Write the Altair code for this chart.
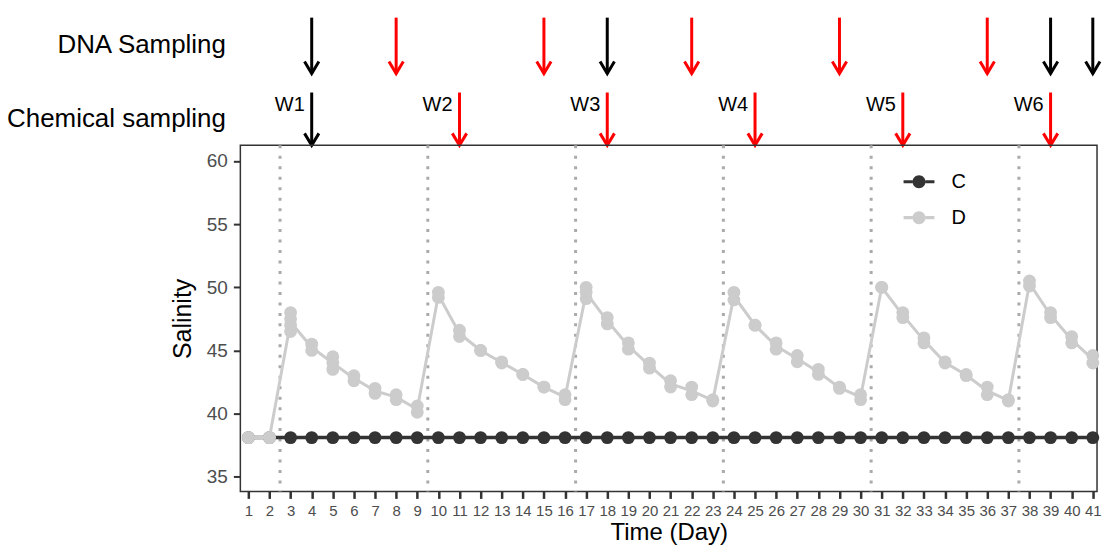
import altair as alt
import pandas as pd

# ---------------- data ----------------
days = list(range(1, 42))
C_salinity = [38.1, 38.1, 38.1, 38.1, 38.1, 38.1, 38.1, 38.1, 38.1, 38.1,
              38.1, 38.1, 38.1, 38.1, 38.1, 38.1, 38.1, 38.1, 38.1, 38.1,
              38.1, 38.1, 38.1, 38.1, 38.1, 38.1, 38.1, 38.1, 38.1, 38.1,
              38.1, 38.1, 38.1, 38.1, 38.1, 38.1, 38.1, 38.1, 38.1, 38.1, 38.1]
D_high = [38.1, 38.1, 48.0, 45.5, 44.5, 43.0, 42.0, 41.5, 40.6, 49.6,
          46.6, 45.0, 44.1, 43.1, 42.1, 41.5, 50.0, 47.6, 45.6, 44.0,
          42.6, 42.1, 41.1, 49.6, 47.0, 45.6, 44.6, 43.5, 42.1, 41.5,
          50.0, 48.0, 46.0, 44.1, 43.1, 42.1, 41.1, 50.5, 48.0, 46.1, 44.6]
D_low = [38.1, 38.1, 46.5, 45.0, 43.5, 42.6, 41.6, 41.1, 40.1, 49.2,
         46.1, 45.0, 44.0, 43.1, 42.1, 41.1, 49.1, 47.1, 45.1, 43.6,
         42.1, 41.5, 41.0, 49.0, 47.0, 45.1, 44.1, 43.1, 42.0, 41.1,
         50.0, 47.6, 45.6, 44.0, 43.0, 41.5, 41.0, 50.1, 47.6, 45.6, 44.0]
D_extra_day = [3, 3, 5, 17]
D_extra_val = [47.5, 47.0, 44.0, 49.6]

window_starts = [2.5, 9.5, 16.5, 23.5, 30.5, 37.5]

dna_days = [4, 8, 15, 18, 22, 29, 36, 39, 41]
dna_colors = ["black", "red", "red", "black", "red", "red", "red", "black", "black"]
chem_days = [4, 11, 18, 25, 32, 39]
chem_colors = ["black", "red", "red", "red", "red", "red"]
chem_labels = ["W1", "W2", "W3", "W4", "W5", "W6"]

groups = ["C", "D"]
group_colors = ["#333333", "#CCCCCC"]

# ---------------- tables ----------------
df_c = pd.DataFrame({"day": days, "value": C_salinity, "group": "C"})
df_d = pd.concat([
    pd.DataFrame({"day": days, "value": D_high}),
    pd.DataFrame({"day": days, "value": D_low}),
    pd.DataFrame({"day": D_extra_day, "value": D_extra_val}),
], ignore_index=True)
df_d["group"] = "D"
df_win = pd.DataFrame({"b": window_starts})
df_dna = pd.DataFrame({"day": dna_days, "col": dna_colors})
df_chem = pd.DataFrame({"day": chem_days, "col": chem_colors, "lab": chem_labels})

FONT = "Liberation Sans"
W = 859
H_MAIN = 347
H_TOP = 130

xscale = alt.Scale(domain=[0.62, 41.2], nice=False, zero=False)
yscale = alt.Scale(domain=[33.84, 61.24], nice=False, zero=False)
cscale = alt.Scale(domain=groups, range=group_colors)

x_axis = alt.Axis(values=days, title="Time (Day)", labelAngle=0, labelOverlap=False,
                  labelFlush=False, tickSize=7, tickWidth=2.5, tickColor="#333333",
                  labelFontSize=15, labelColor="#4D4D4D", labelPadding=5,
                  titleFontSize=24, titleFontWeight="normal", titleColor="black",
                  titlePadding=2, domain=False, grid=False)
y_axis = alt.Axis(values=[35, 40, 45, 50, 55, 60], title="Salinity", tickSize=7,
                  tickWidth=2, tickColor="#333333", labelFontSize=19,
                  labelColor="#4D4D4D", labelPadding=6, titleFontSize=25,
                  titleFontWeight="normal", titleColor="black", titlePadding=11,
                  domain=False, grid=False)


def X(field="day:Q"):
    return alt.X(field, scale=xscale, axis=x_axis)


def Y(field="value:Q"):
    return alt.Y(field, scale=yscale, axis=y_axis)


legend_path = ("M-1,-0.1L-0.42,-0.1L-0.42,0.1L-1,0.1Z "
               "M0.42,-0.1L1,-0.1L1,0.1L0.42,0.1Z "
               "M0.42,0A0.42,0.42,0,1,1,-0.42,0A0.42,0.42,0,1,1,0.42,0Z")
legend = alt.Legend(title=None, orient="none", legendX=665, legendY=21,
                    symbolType=legend_path, symbolSize=961, symbolOpacity=1,
                    symbolStrokeWidth=0, labelFontSize=20, labelColor="black",
                    labelFont=FONT, labelOffset=17, rowPadding=10, labelLimit=0)

PT_SIZE = 165

vlines = alt.Chart(df_win).mark_rule(color="#AAAAAA", strokeWidth=3,
                                     strokeDash=[3, 7.5]).encode(x=X("b:Q"))

c_pts = alt.Chart(df_c).mark_point(filled=True, size=PT_SIZE, opacity=1).encode(
    x=X(), y=Y(), color=alt.Color("group:N", scale=cscale, legend=legend))
c_line = alt.Chart(df_c).mark_line(strokeWidth=3.5).encode(
    x=X(), y=Y(), stroke=alt.Stroke("group:N", scale=cscale, legend=None))
d_pts = alt.Chart(df_d).mark_point(filled=True, size=PT_SIZE, opacity=1).encode(
    x=X(), y=Y(), color=alt.Color("group:N", scale=cscale, legend=legend))
d_line = alt.Chart(df_d).transform_aggregate(
    value="mean(value)", groupby=["day", "group"]
).mark_line(strokeWidth=3).encode(
    x=X(), y=Y(), stroke=alt.Stroke("group:N", scale=cscale, legend=None))

main = alt.layer(vlines, c_pts, c_line, d_pts, d_line).properties(width=W, height=H_MAIN)

# ---------------- top annotation rows ----------------
top_yscale = alt.Scale(domain=[0, 2], nice=False, zero=False)
top_axis = alt.Axis(values=[1.55, 0.415],
                    labelExpr="datum.value > 1 ? 'DNA Sampling' : 'Chemical sampling'",
                    domain=False, ticks=False, grid=False, title=None,
                    labelFontSize=26, labelColor="black", labelPadding=15,
                    labelFont=FONT, labelLimit=0)
tx = alt.X("day:Q", scale=xscale, axis=None)


def TY(v):
    return alt.Y(datum=v, type="quantitative", scale=top_yscale, axis=top_axis)


chev = "M-0.6,-1L0,0L0.6,-1"

dna_rule = alt.Chart(df_dna).mark_rule(strokeWidth=3).encode(
    x=tx, y=TY(1.97), y2=alt.datum(1.108), color=alt.Color("col:N", scale=None))
dna_head = alt.Chart(df_dna).mark_point(shape=chev, filled=False, size=576,
                                        strokeWidth=3, opacity=1).encode(
    x=tx, y=TY(1.108), color=alt.Color("col:N", scale=None))
chem_rule = alt.Chart(df_chem).mark_rule(strokeWidth=3).encode(
    x=tx, y=TY(0.815), y2=alt.datum(0.0), color=alt.Color("col:N", scale=None))
chem_head = alt.Chart(df_chem).mark_point(shape=chev, filled=False, size=576,
                                          strokeWidth=3, opacity=1).encode(
    x=tx, y=TY(0.0), color=alt.Color("col:N", scale=None))
chem_text = alt.Chart(df_chem).mark_text(align="right", baseline="middle", dx=-7,
                                         fontSize=20, color="black", font=FONT).encode(
    x=tx, y=TY(0.615), text="lab:N")

top = alt.layer(dna_rule, dna_head, chem_rule, chem_head, chem_text).properties(
    width=W, height=H_TOP, view=alt.ViewBackground(stroke="transparent"))

chart = alt.vconcat(top, main, spacing=0, bounds="flush").resolve_scale(
    x="independent", y="independent", color="independent", stroke="independent"
).properties(
    padding={"top": 14, "left": 5, "right": 0, "bottom": 0}
).configure(font=FONT).configure_view(stroke="#333333", strokeWidth=1.5)

chart.save("out.html", embed_options={"renderer": "svg", "actions": False})
